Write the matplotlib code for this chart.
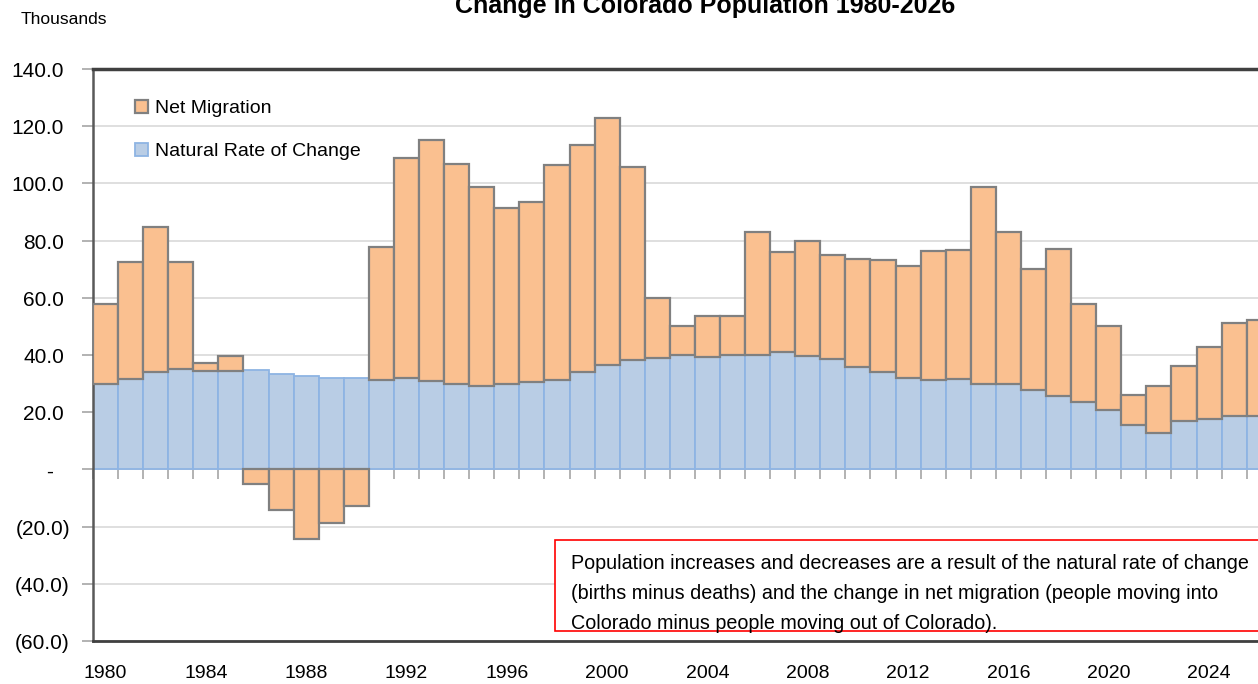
import matplotlib
matplotlib.use("Agg")
import matplotlib.pyplot as plt
import matplotlib.transforms as mtransforms
from matplotlib.patches import Rectangle
import numpy as np

plt.rcParams['font.family'] = ['Liberation Sans', 'DejaVu Sans']

years = list(range(1980, 2027))
natural = [29.7, 31.7, 34.0, 35.0, 34.4, 34.3, 34.7, 33.5, 32.5, 31.9,
           31.9, 31.3, 32.0, 30.8, 29.9, 29.1, 29.9, 30.4, 31.4, 34.1,
           36.6, 38.4, 39.0, 40.1, 39.4, 39.9, 40.1, 41.1, 39.5, 38.5,
           35.8, 34.0, 31.9, 31.1, 31.7, 30.0, 29.7, 27.7, 25.6, 23.7,
           20.6, 15.5, 12.7, 16.9, 17.6, 18.6, 18.6]
migration = [28.1, 40.7, 50.6, 37.6, 2.8, 5.2, -5.2, -14.1, -24.2, -18.7,
             -12.9, 46.3, 76.8, 84.4, 77.0, 69.8, 61.6, 63.0, 75.1, 79.3,
             86.2, 67.4, 21.1, 10.2, 14.1, 13.6, 42.9, 35.0, 40.5, 36.4,
             37.6, 39.2, 39.2, 45.1, 45.1, 68.9, 53.4, 42.2, 51.6, 34.2,
             29.4, 10.6, 16.4, 19.2, 25.1, 32.7, 33.5]
ytick_values = [140, 120, 100, 80, 60, 40, 20, 0, -20, -40, -60]
label_years = [1980, 1984, 1988, 1992, 1996, 2000, 2004, 2008, 2012, 2016, 2020, 2024]

title = "Change in Colorado Population 1980-2026"
note = ("Population increases and decreases are a result of the natural rate of change\n"
        "(births minus deaths) and the change in net migration (people moving into\n"
        "Colorado minus people moving out of Colorado).")

W, H = 1258, 684
fig = plt.figure(figsize=(W / 100, H / 100), dpi=100)
ax = fig.add_axes([93 / W, (H - 641) / H, (W - 93) / W, (641 - 69) / H])

x = np.arange(len(years))
nat = np.array(natural)
mig = np.array(migration)
mig_bottom = np.where(mig >= 0, nat, 0)

orange = '#FAC090'
blue = '#B9CDE5'

ax.grid(axis='y', color='#D9D9D9', linewidth=1.2, zorder=0)
ax.set_axisbelow(True)

b_nat = ax.bar(x, nat, width=1.0, color=blue, edgecolor='#8EB4E3',
               linewidth=1.3, zorder=2, label='Natural Rate of Change')
b_mig = ax.bar(x, mig, width=1.0, bottom=mig_bottom, color=orange,
               edgecolor='#808080', linewidth=1.6, zorder=3, label='Net Migration')

ax.set_ylim(-60, 140)
ax.set_xlim(-0.5, (W - 93) / 25.08 - 0.5)
ax.set_yticks(ytick_values)
ax.set_yticklabels([])
ax.tick_params(axis='y', length=8, width=1.2, color='#A6A6A6', direction='out')

ax.set_xticks([years.index(yv) for yv in label_years])
ax.set_xticklabels([str(yv) for yv in label_years], fontsize=14)
ax.tick_params(axis='x', length=0, pad=17)

for s in ['left', 'bottom', 'top']:
    ax.spines[s].set_color('#404040')
ax.spines['left'].set_linewidth(1.8)
ax.spines['left'].set_color('#595959')
ax.spines['bottom'].set_linewidth(2.0)
ax.spines['top'].set_linewidth(2.5)
ax.spines['right'].set_visible(False)

# zero (category) axis line with boundary tick marks
zero_frac = (0 - (-60)) / 200
sec = ax.secondary_xaxis(zero_frac)
sec.set_xticks(np.arange(len(years) + 1) - 0.5)
sec.set_xticklabels([])
sec.tick_params(axis='x', length=7, width=1.2, color='#A6A6A6', direction='out')
sec.spines['bottom'].set_color('#A6A6A6')
sec.spines['bottom'].set_linewidth(1.3)
for s in ['top', 'left', 'right']:
    sec.spines[s].set_visible(False)

# y tick labels (accounting style)
trans = mtransforms.blended_transform_factory(fig.transFigure, ax.transData)
trans = trans + mtransforms.ScaledTranslation(0, -0.08, fig.dpi_scale_trans)
ysz = 15
for v in ytick_values:
    if v > 0:
        ax.text(64 / W, v, f"{v:.1f}", transform=trans, ha='right', va='baseline',
                fontsize=ysz, clip_on=False)
    elif v == 0:
        ax.text(53 / W, v, "-", transform=trans, ha='right', va='baseline',
                fontsize=ysz, clip_on=False)
    else:
        ax.text(70 / W, v, f"({abs(v):.1f})", transform=trans, ha='right', va='baseline',
                fontsize=ysz, clip_on=False)

leg = ax.legend(handles=[b_mig, b_nat], loc='upper left',
                bbox_to_anchor=(135 / W, 1 - 100 / H), bbox_transform=fig.transFigure,
                frameon=False, fontsize=14, handlelength=0.68, handleheight=0.68,
                handletextpad=0.35, labelspacing=1.3, borderpad=0, borderaxespad=0)

fig.text(21 / W, 1 - 20 / H, "Thousands", fontsize=12.6, ha='left', va='center')
fig.text(705 / W, 1 - 13 / H, title, fontsize=18, fontweight='bold',
         ha='center', va='baseline')

rect = Rectangle((555 / W, (H - 631) / H), (W + 20 - 555) / W, (631 - 540) / H,
                 transform=fig.transFigure, fill=True, facecolor='white',
                 edgecolor='#FF0000', linewidth=1.2, zorder=5)
fig.add_artist(rect)
fig.text(571 / W, 1 - 593.5 / H, note, fontsize=14.2, ha='left', va='center',
         linespacing=1.73, zorder=6)

fig.savefig("out.png", dpi=100)
